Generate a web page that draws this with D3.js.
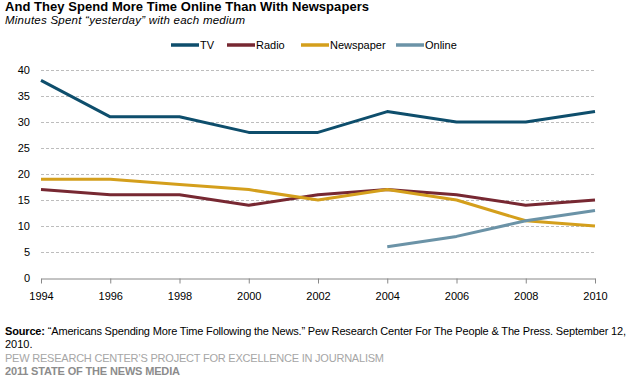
<!DOCTYPE html>
<html><head><meta charset="utf-8">
<script src="https://cdn.jsdelivr.net/npm/d3@7"></script>
<style>body{margin:0;background:#fff;} svg{display:block;font-family:"Liberation Sans",Arial,sans-serif;}</style>
</head><body>
<svg id="chart" width="638" height="382"></svg>
<script>
const years = [1994, 1996, 1998, 2000, 2002, 2004, 2006, 2008, 2010];
const tv = [38, 31, 31, 28, 28, 32, 30, 30, 32];
const radio = [17, 16, 16, 14, 16, 17, 16, 14, 15];
const newspaper = [19, 19, 18, 17, 15, 17, 15, 11, 10];
const online = [null, null, null, null, null, 6, 8, 11, 13];
const yTicks = [0, 5, 10, 15, 20, 25, 30, 35, 40];
const seriesNames = ["TV", "Radio", "Newspaper", "Online"];
const colors = ["#0e4e6c", "#772832", "#d49f1c", "#6b93a7"];
const seriesVals = [tv, radio, newspaper, online];

const svg = d3.select("#chart");
const x = d3.scaleLinear().domain([1994, 2010]).range([41, 595]);
const y = d3.scaleLinear().domain([0, 40]).range([278, 70]);

function fit(sel, w) {
  const node = sel.node();
  const cur = node.getComputedTextLength();
  const n = node.textContent.length;
  if (n > 1) sel.attr("letter-spacing", (w - cur) / (n - 1));
  return sel;
}

// title
fit(svg.append("text").attr("x", 5).attr("y", 11).attr("font-size", 13).attr("font-weight", "bold").attr("fill", "#000")
  .text("And They Spend More Time Online Than With Newspapers"), 364);
fit(svg.append("text").attr("x", 5).attr("y", 24).attr("font-size", 11.5).attr("font-style", "italic").attr("fill", "#000")
  .text("Minutes Spent \u201cyesterday\u201d with each medium"), 240);

// gridlines
svg.append("g").selectAll("line").data(yTicks.filter(d => d > 0)).join("line")
  .attr("x1", 41).attr("x2", 594).attr("y1", d => y(d) + 0.5).attr("y2", d => y(d) + 0.5)
  .attr("stroke", "#bdbdbd").attr("stroke-dasharray", "3,2").attr("stroke-width", 1);

// y labels
svg.append("g").selectAll("text").data(yTicks).join("text")
  .attr("x", 30).attr("y", d => y(d) + 4).attr("text-anchor", "end").attr("font-size", 11).attr("fill", "#000")
  .text(d => d);

// x axis
const xAxis = d3.axisBottom(x).tickValues(years).tickFormat(d3.format("d")).tickSize(5).tickSizeOuter(0);
const gx = svg.append("g").attr("transform", "translate(0,278.5)").call(xAxis);
gx.select(".domain").attr("stroke", "#888");
gx.selectAll(".tick line").attr("stroke", "#888");
gx.selectAll(".tick text").attr("font-size", 11).attr("fill", "#000").attr("dy", "1.25em")
  .attr("font-family", "'Liberation Sans',Arial,sans-serif");

// lines
const line = d3.line().defined(d => d[1] != null).x(d => x(d[0])).y(d => y(d[1]));
seriesVals.forEach((vals, i) => {
  svg.append("path").datum(years.map((yr, j) => [yr, vals[j]]))
    .attr("d", line).attr("fill", "none").attr("stroke", colors[i]).attr("stroke-width", 3)
    .attr("stroke-linejoin", "round");
});

// legend
const legX = [171, 227, 301, 396];
seriesNames.forEach((n, i) => {
  svg.append("line").attr("x1", legX[i]).attr("x2", legX[i] + 28).attr("y1", 45).attr("y2", 45)
    .attr("stroke", colors[i]).attr("stroke-width", 3.5);
  svg.append("text").attr("x", legX[i] + 29).attr("y", 49).attr("font-size", 11).attr("fill", "#000").text(n);
});

// footer
const src = svg.append("text").attr("x", 5).attr("y", 335).attr("font-size", 11).attr("fill", "#000");
src.append("tspan").attr("font-weight", "bold").text("Source: ");
src.append("tspan").text("\u201cAmericans Spending More Time Following the News.\u201d Pew Research Center For The People & The Press. September 12,");
fit(src, 621);
svg.append("text").attr("x", 5).attr("y", 348).attr("font-size", 11).attr("fill", "#000").text("2010.");
fit(svg.append("text").attr("x", 5).attr("y", 362).attr("font-size", 11).attr("fill", "#a6a6a6")
  .text("PEW RESEARCH CENTER\u2019S PROJECT FOR EXCELLENCE IN JOURNALISM"), 379);
fit(svg.append("text").attr("x", 5).attr("y", 375).attr("font-size", 11).attr("font-weight", "bold").attr("fill", "#8c8c8c")
  .text("2011 STATE OF THE NEWS MEDIA"), 175);
</script>
</body></html>
